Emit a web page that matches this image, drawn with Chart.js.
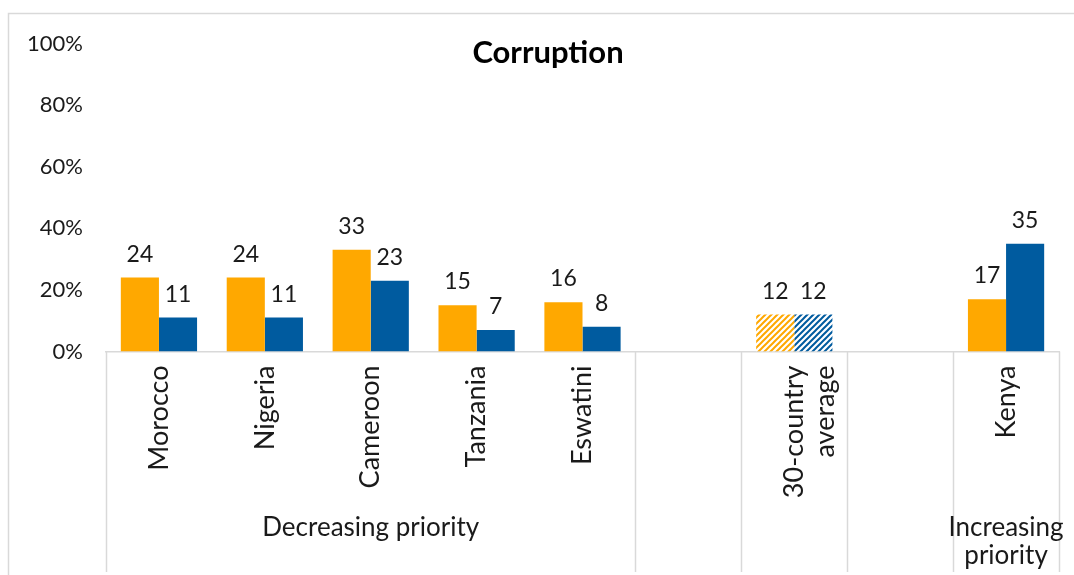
<!DOCTYPE html>
<html>
<head>
<meta charset="utf-8">
<script src="https://cdn.jsdelivr.net/npm/chart.js@4"></script>
<style>
  html, body { margin: 0; padding: 0; background: #fff; }
  #c { display: block; }
</style>
</head>
<body>
<canvas id="c" width="1074" height="575"></canvas>
<script>
// ---- data ----
const chartTitle = 'Corruption';
const categories = ['Morocco', 'Nigeria', 'Cameroon', 'Tanzania', 'Eswatini', '', ['30-country', 'average'], '', 'Kenya'];
const seriesNames = ['Series 1', 'Series 2'];
const seriesA = [24, 24, 33, 15, 16, null, 12, null, 17];
const seriesB = [11, 11, 23, 7, 8, null, 12, null, 35];
const yTickValues = [0, 20, 40, 60, 80, 100];
const groupLabels = [['Decreasing priority'], ['Increasing', 'priority']];
const groupRanges = [[0, 4], [8, 8]];
const dividerBoundaries = [0, 5, 6, 7, 8, 9];
const hatchedCategory = 6;

// ---- styles ----
const FONT = 'Lato, "Open Sans", "DejaVu Sans", sans-serif';
const ORANGE = '#FFA800';
const BLUE = '#005B9F';
const GRAY = '#D9D9D9';
const TEXT = '#1A1A1A';

function hatch(color) {
  const s = 6;
  const cv = document.createElement('canvas');
  cv.width = s; cv.height = s;
  const g = cv.getContext('2d');
  g.fillStyle = '#fff';
  g.fillRect(0, 0, s, s);
  g.strokeStyle = color;
  g.lineWidth = 2;
  g.beginPath();
  g.moveTo(-1, s + 1); g.lineTo(s + 1, -1);
  g.moveTo(-1, 1); g.lineTo(1, -1);
  g.moveTo(s - 1, s + 1); g.lineTo(s + 1, s - 1);
  g.stroke();
  return g.createPattern(cv, 'repeat');
}
const ctx0 = document.getElementById('c').getContext('2d');
const hatchA = hatch(ORANGE);
const hatchB = hatch(BLUE);

const colorsA = categories.map((_, i) => i === hatchedCategory ? hatchA : ORANGE);
const colorsB = categories.map((_, i) => i === hatchedCategory ? hatchB : BLUE);

const decor = {
  id: 'decor',
  beforeDraw(chart) {
    const c = chart.ctx;
    c.save();
    c.strokeStyle = GRAY;
    c.lineWidth = 1.5;
    c.beginPath();
    c.moveTo(8.5, 575); c.lineTo(8.5, 13.5); c.lineTo(1074, 13.5);
    c.stroke();
    c.restore();
  },
  afterDraw(chart) {
    const c = chart.ctx;
    const x = chart.scales.x;
    const area = chart.chartArea;
    const half = (x.getPixelForValue(1) - x.getPixelForValue(0)) / 2;
    c.save();
    // dividers
    c.strokeStyle = GRAY;
    c.lineWidth = 1.5;
    dividerBoundaries.forEach(b => {
      const px = Math.round(x.getPixelForValue(b) - half) + 0.5;
      c.beginPath();
      c.moveTo(px, area.bottom);
      c.lineTo(px, 572);
      c.stroke();
    });
    // title
    c.fillStyle = '#000';
    c.font = 'bold 31px ' + FONT;
    c.textAlign = 'center';
    c.textBaseline = 'middle';
    c.fillText(chartTitle, 548, 53);
    // group labels
    c.fillStyle = TEXT;
    c.font = '26px ' + FONT;
    groupRanges.forEach((r, gi) => {
      const cx = (x.getPixelForValue(r[0]) + x.getPixelForValue(r[1])) / 2;
      groupLabels[gi].forEach((line, li) => {
        c.fillText(line, cx, 528 + li * 28);
      });
    });
    // value labels
    c.font = '23px ' + FONT;
    c.textBaseline = 'alphabetic';
    chart.data.datasets.forEach((ds, di) => {
      const meta = chart.getDatasetMeta(di);
      meta.data.forEach((el, i) => {
        const v = ds.data[i];
        if (v === null || v === undefined) return;
        c.fillText(String(v), el.x, el.y - 16);
      });
    });
    c.restore();
  }
};

new Chart(ctx0, {
  type: 'bar',
  data: {
    labels: categories,
    datasets: [
      { label: seriesNames[0], data: seriesA, backgroundColor: colorsA, borderWidth: 0 },
      { label: seriesNames[1], data: seriesB, backgroundColor: colorsB, borderWidth: 0 }
    ]
  },
  options: {
    responsive: false,
    animation: false,
    devicePixelRatio: 1,
    layout: { padding: { top: 43.5, right: 15, left: 0, bottom: 0 } },
    datasets: { bar: { categoryPercentage: 0.72, barPercentage: 1.0 } },
    plugins: {
      legend: { display: false },
      title: { display: false },
      tooltip: { enabled: false }
    },
    scales: {
      x: {
        grid: { display: false, drawTicks: false },
        border: { display: true, color: GRAY, width: 1.5 },
        ticks: {
          minRotation: 90, maxRotation: 90,
          autoSkip: false,
          padding: 14,
          color: TEXT,
          font: { family: FONT, size: 27, lineHeight: 1.15 }
        },
        afterFit(scale) { scale.height = 575 - 351.5; }
      },
      y: {
        min: 0, max: 100,
        afterBuildTicks(scale) { scale.ticks = yTickValues.map(v => ({ value: v })); },
        grid: { display: false, drawTicks: false },
        border: { display: false },
        ticks: {
          padding: 23,
          color: TEXT,
          font: { family: FONT, size: 22 },
          callback: v => v + '%'
        },
        afterFit(scale) { scale.width = 106; }
      }
    }
  },
  plugins: [decor]
});
</script>
</body>
</html>
